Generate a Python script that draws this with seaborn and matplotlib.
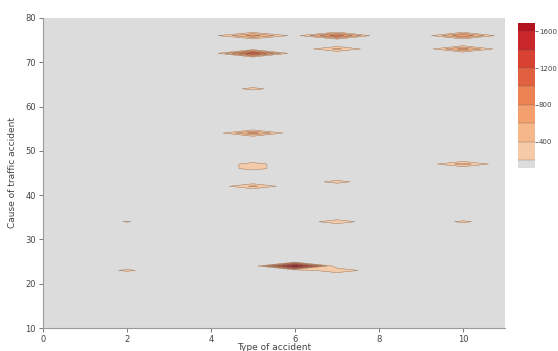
import numpy as np
import pandas as pd
import seaborn as sns
import matplotlib
matplotlib.use("Agg")
import matplotlib.pyplot as plt
from matplotlib.colors import ListedColormap, BoundaryNorm

sns.set_theme(style="white", context="paper")
plt.rcParams['font.family'] = ['DejaVu Sans']

# accident types (x) and causes (y) spanned by the grid
accident_types = list(range(0, 12))
accident_causes = list(range(10, 81))

# non-zero cells of the count grid: type, cause, count
cell_type = [2, 2, 4, 5, 6, 5, 5, 5, 5, 5, 5, 7, 7, 7, 7, 10, 10, 10, 10, 6, 7]
cell_cause = [23, 34, 76, 76, 76, 72, 64, 54, 46, 47, 42, 76, 73, 43, 34, 76, 73, 47, 34, 24, 23]
cell_count = [250, 220, 100, 700, 100, 1200, 270, 700, 300, 300, 450, 950, 450, 290, 350,
              800, 700, 500, 250, 1700, 400]

levels = [200, 400, 600, 800, 1000, 1200, 1400, 1600]
bin_colors = ['#f4caa9', '#f6b88a', '#f4a06e', '#ec8252', '#e06040', '#d84232', '#c8262a']

cells = pd.DataFrame({'type': cell_type, 'cause': cell_cause, 'count': cell_count})
grid = (cells.pivot_table(index='cause', columns='type', values='count', aggfunc='sum')
        .reindex(index=accident_causes, columns=accident_types).fillna(0))

cmap = ListedColormap(sns.color_palette(bin_colors))
cmap.set_under('#dcdcdc')
cmap.set_over('#b3121f')
norm = BoundaryNorm(levels, cmap.N)

fig = plt.figure(figsize=(5.58, 3.51), dpi=100)
ax = fig.add_axes([0.077, 0.0655, 0.828, 0.8835])
X, Y = np.meshgrid(grid.columns.values, grid.index.values)
cs = ax.contourf(X, Y, grid.values, levels=levels, cmap=cmap, norm=norm, extend='both')
lines = ax.contour(X, Y, grid.values, levels=levels, colors='#555555', linewidths=0.35, alpha=0.6)

ax.set_xlim(0, 11)
ax.set_ylim(10, 80)
ax.set_xticks(range(0, 11, 2))
ax.set_yticks(range(10, 81, 10))
for side in ['top', 'right']:
    ax.spines[side].set_visible(False)
for side in ['left', 'bottom']:
    ax.spines[side].set_color('#9a9a9a')
    ax.spines[side].set_linewidth(0.8)
ax.tick_params(axis='both', direction='out', length=3, width=0.7, color='#777777',
               labelsize=6, labelcolor='#444444', pad=2, bottom=True, left=True)
ax.set_xlabel('Type of accident', fontsize=6.5, color='#444444', labelpad=-0.5)
ax.set_ylabel('Cause of traffic accident', fontsize=6.5, color='#444444', labelpad=6)

cax = fig.add_axes([0.928, 0.521, 0.03, 0.413])
cb = fig.colorbar(cs, cax=cax, extendrect=True, extendfrac=0.0625, ticks=[400, 800, 1200, 1600])
cb.add_lines(lines)
cb.outline.set_visible(False)
cb.ax.minorticks_off()
cb.ax.tick_params(length=2, width=0.6, color='#555555', labelsize=5, labelcolor='#444444', pad=1)
for spine in cb.ax.spines.values():
    spine.set_visible(False)

plt.savefig('out.png', dpi=100)
